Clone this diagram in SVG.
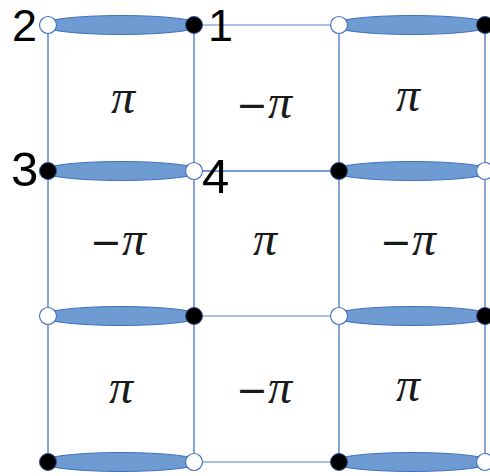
<svg xmlns="http://www.w3.org/2000/svg" width="490" height="476" viewBox="0 0 490 476">
<style>
.ln{stroke:#4a76c4;stroke-width:1.3;fill:none}
.lt{stroke:#8fabdc;stroke-width:1.3;fill:none}
.ov{fill:#6d9bd2;stroke:#3f6fbf;stroke-width:1}
.w{fill:#fff;stroke:#4472c4;stroke-width:1.2}
.b{fill:#000;stroke:#2f5597;stroke-width:1}
.num{font-family:"Liberation Sans",Arial,sans-serif;font-size:45px;fill:#000}
.big{font-size:49px}
.pi{font-family:"Liberation Serif","Times New Roman",serif;font-style:italic;font-size:48px;fill:#1a1a1a;text-anchor:middle}
.mn{font-family:"DejaVu Sans",sans-serif;font-style:normal;font-size:38px}
</style>
<rect width="490" height="476" fill="#fff"/>
<g id="connectors">
<line class="ln" x1="48" y1="25" x2="48" y2="462"/>
<line class="ln" x1="194" y1="25" x2="194" y2="462"/>
<line class="ln" x1="339" y1="25" x2="339" y2="462"/>
<line class="ln" x1="485" y1="25" x2="485" y2="462"/>
<line class="lt" x1="194" y1="25" x2="339" y2="25"/>
<line class="ln" x1="194" y1="171" x2="339" y2="171"/>
<line class="lt" x1="194" y1="316" x2="339" y2="316"/>
<line class="lt" x1="194" y1="462" x2="339" y2="462"/>
</g>
<g id="bonds">
<g id="bond-r1-a"><ellipse class="ov" cx="121" cy="25" rx="80" ry="9.5"/></g>
<g id="bond-r1-b"><ellipse class="ov" cx="412" cy="25" rx="80" ry="9.5"/></g>
<g id="bond-r2-a"><ellipse class="ov" cx="121" cy="171" rx="80" ry="9.5"/></g>
<g id="bond-r2-b"><ellipse class="ov" cx="412" cy="171" rx="80" ry="9.5"/></g>
<g id="bond-r3-a"><ellipse class="ov" cx="121" cy="316" rx="80" ry="9.5"/></g>
<g id="bond-r3-b"><ellipse class="ov" cx="412" cy="316" rx="80" ry="9.5"/></g>
<g id="bond-r4-a"><ellipse class="ov" cx="121" cy="462" rx="80" ry="9.5"/></g>
<g id="bond-r4-b"><ellipse class="ov" cx="412" cy="462" rx="80" ry="9.5"/></g>
</g>
<g id="n-1-1"><circle class="w" cx="48" cy="25" r="8.5"/></g>
<g id="n-1-2"><circle class="b" cx="194" cy="25" r="8.5"/></g>
<g id="n-1-3"><circle class="w" cx="339" cy="25" r="8.5"/></g>
<g id="n-1-4"><circle class="b" cx="485" cy="25" r="8.5"/></g>
<g id="n-2-1"><circle class="b" cx="48" cy="171" r="8.5"/></g>
<g id="n-2-2"><circle class="w" cx="194" cy="171" r="8.5"/></g>
<g id="n-2-3"><circle class="b" cx="339" cy="171" r="8.5"/></g>
<g id="n-2-4"><circle class="w" cx="485" cy="171" r="8.5"/></g>
<g id="n-3-1"><circle class="w" cx="48" cy="316" r="8.5"/></g>
<g id="n-3-2"><circle class="b" cx="194" cy="316" r="8.5"/></g>
<g id="n-3-3"><circle class="w" cx="339" cy="316" r="8.5"/></g>
<g id="n-3-4"><circle class="b" cx="485" cy="316" r="8.5"/></g>
<g id="n-4-1"><circle class="b" cx="48" cy="462" r="8.5"/></g>
<g id="n-4-2"><circle class="w" cx="194" cy="462" r="8.5"/></g>
<g id="n-4-3"><circle class="b" cx="339" cy="462" r="8.5"/></g>
<g id="n-4-4"><circle class="w" cx="485" cy="462" r="8.5"/></g>
<g id="labels">
<text class="num" x="12" y="41">2</text>
<text class="num" x="208" y="41">1</text>
<text class="num big" x="11" y="186">3</text>
<text class="num big" x="202" y="193">4</text>
</g>
<g id="cells">
<g id="c-1-1"><text class="pi" x="123" y="113">π</text></g>
<g id="c-1-2"><text class="pi" x="264" y="118"><tspan class="mn">−</tspan>π</text></g>
<g id="c-1-3"><text class="pi" x="408" y="111">π</text></g>
<g id="c-2-1"><text class="pi" x="118" y="255"><tspan class="mn">−</tspan>π</text></g>
<g id="c-2-2"><text class="pi" x="265" y="255">π</text></g>
<g id="c-2-3"><text class="pi" x="408" y="255"><tspan class="mn">−</tspan>π</text></g>
<g id="c-3-1"><text class="pi" x="121" y="403">π</text></g>
<g id="c-3-2"><text class="pi" x="264" y="403"><tspan class="mn">−</tspan>π</text></g>
<g id="c-3-3"><text class="pi" x="408" y="401">π</text></g>
</g>
</svg>
